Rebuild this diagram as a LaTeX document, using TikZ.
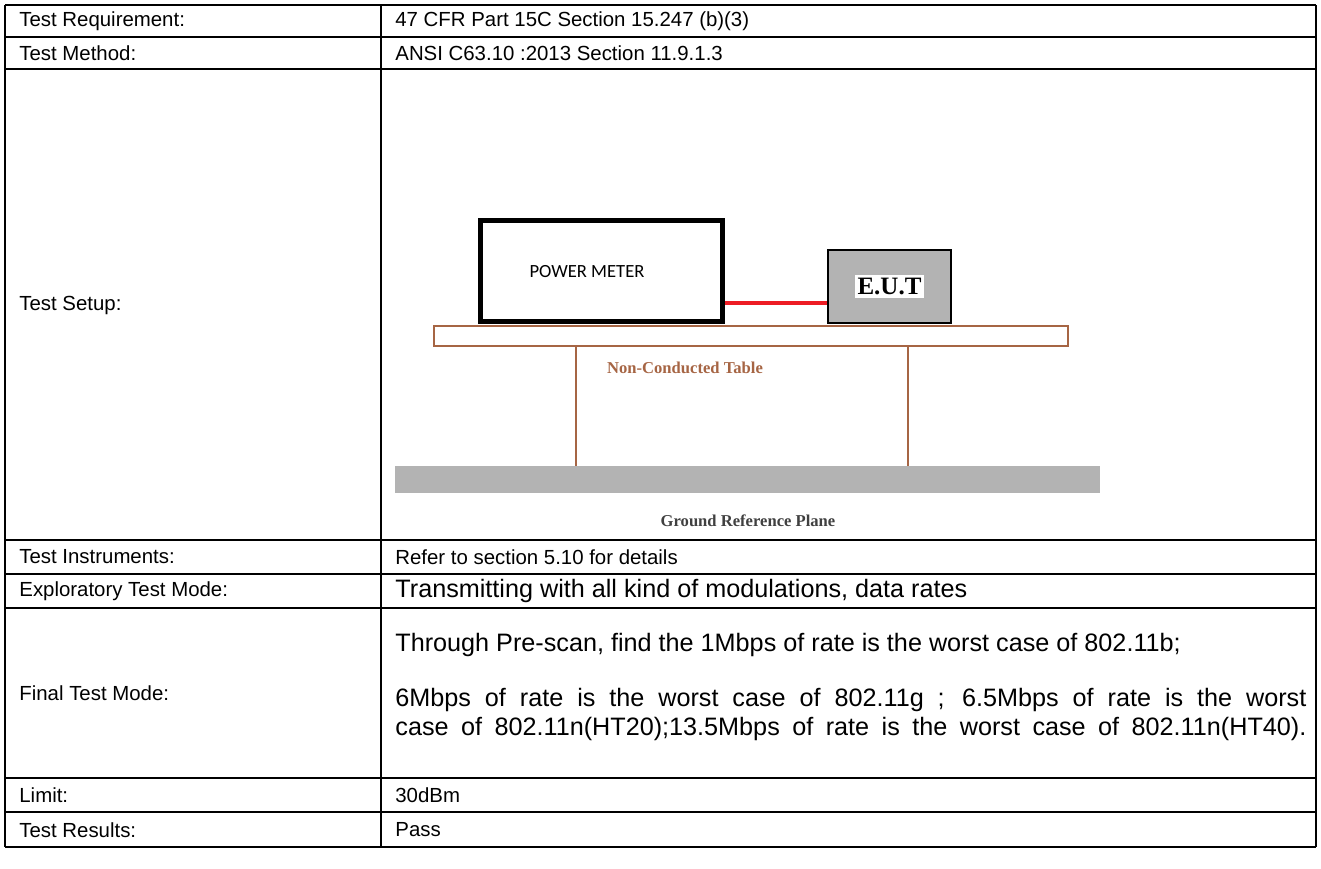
\documentclass[tikz,border=0pt]{standalone}
\usepackage{fontspec}
\setmainfont{Liberation Sans}
\newfontfamily\serifbold{Liberation Serif}[BoldFont={* Bold}]
\newfontfamily\calibrifont{Carlito}
\usetikzlibrary{positioning}
\definecolor{woodbrown}{RGB}{166,101,68}
\definecolor{planegray}{RGB}{179,179,179}
\definecolor{cablered}{RGB}{237,28,36}

\begin{document}
\begin{tikzpicture}[
    x=0.5pt, y=-0.5pt,
    cell/.style={anchor=west, inner sep=0pt, font=\fontsize{10.2pt}{12pt}\selectfont},
    bigcell/.style={cell, font=\fontsize{12.6pt}{14pt}\selectfont},
    grid/.style={line width=1pt},
    wood/.style={draw=woodbrown, line width=1pt},
    cable/.style={draw=cablered, line width=2pt},
    caption/.style={inner sep=0pt, font=\serifbold\bfseries\fontsize{8.3pt}{10pt}\selectfont}
  ]
  \useasboundingbox (0,0) rectangle (1321,868);

  % table frame
  \foreach \y in {5,37,69,540,574,608,778,812,847}
    \draw[grid] (5,\y) -- (1316,\y);
  \draw[grid] (5,5) -- (5,847);
  \draw[grid] (381,5) -- (381,847);
  \draw[grid] (1316,5) -- (1316,847);

  % left column
  \node[cell] (req) at (19,21) {Test Requirement:};
  \node[cell] (meth) at (19,53) {Test Method:};
  \node[cell] (setup) at (19,305) {Test Setup:};
  \node[cell] (inst) at (19,557) {Test Instruments:};
  \node[cell] (expl) at (19,591) {Exploratory Test Mode:};
  \node[cell] (final) at (19,693) {Final Test Mode:};
  \node[cell] (limit) at (19,795) {Limit:};
  \node[cell] (res) at (19,830) {Test Results:};

  % right column
  \node[cell] (reqv) at (395,21) {47 CFR Part 15C Section 15.247 (b)(3)};
  \node[cell] (methv) at (395,53) {ANSI C63.10 :2013 Section 11.9.1.3};
  \node[cell] (instv) at (395,557) {Refer to section 5.10 for details};
  \node[bigcell] (explv) at (395,591) {Transmitting with all kind of modulations, data rates};
  \node[bigcell] (finala) at (395,645) {Through Pre-scan, find the 1Mbps of rate is the worst case of 802.11b;};
  \node[bigcell] (finalb) at (395,700) {\makebox[455.5pt][s]{6Mbps of rate is the worst case of 802.11g ; 6.5Mbps of rate is the worst}};
  \node[bigcell] (finalc) at (395,729) {\makebox[455.5pt][s]{case of 802.11n(HT20);13.5Mbps of rate is the worst case of 802.11n(HT40).}};
  \node[cell] (limitv) at (395,795) {30dBm};
  \node[cell] (resv) at (395,830) {Pass};

  % setup drawing
  \node[draw, line width=1pt, fill=white, minimum width=317pt, minimum height=10pt, draw=woodbrown] (table) at (751,336) {};
  \foreach \x in {576,908}
    \draw[wood] (table.south -| \x,0) -- (\x,466);
  \node[fill=planegray, minimum width=352.5pt, minimum height=13.5pt, inner sep=0pt] (plane) at (747.5,479.5) {};
  \node[draw, line width=2.5pt, minimum width=121pt, minimum height=50.5pt] (pm) at (601.5,271) {};
  \node[inner sep=0pt, font=\calibrifont\fontsize{9.3pt}{10pt}\selectfont] (pmtext) at (587,272) {POWER METER};
  \node[draw, line width=1pt, fill=planegray, minimum width=61.5pt, minimum height=36.5pt] (eut) at (889.5,286.5) {};
  \node[fill=white, inner sep=1.5pt, font=\serifbold\bfseries\fontsize{12.5pt}{13pt}\selectfont] (euttext) at (eut.center) {E.U.T};
  \draw[cable] ([yshift=-8.25pt]eut.west) -- ([yshift=-8.25pt]eut.west -| pm.east);
  \node[caption, text=woodbrown] (tabletext) at (685,368) {Non-Conducted Table};
  \node[caption, text=black!75] (planetext) at (748,521) {Ground Reference Plane};
\end{tikzpicture}
\end{document}
